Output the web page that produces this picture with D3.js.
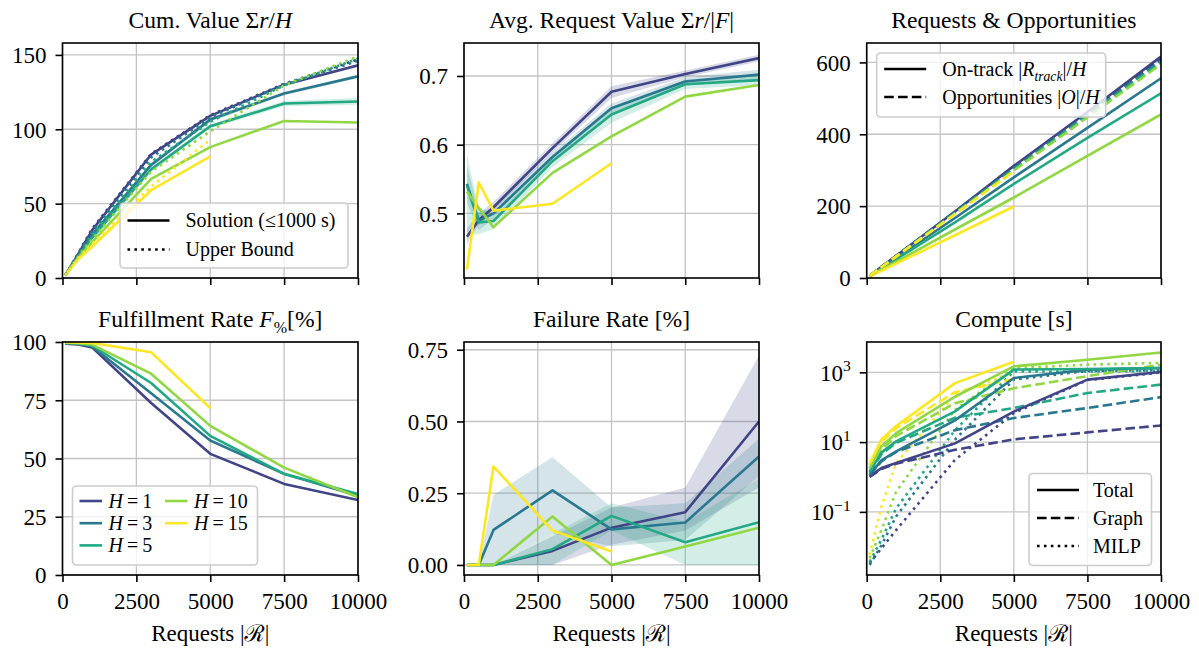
<!DOCTYPE html>
<html>
<head>
<meta charset="utf-8">
<script src="https://cdn.jsdelivr.net/npm/d3@7"></script>
<style>
  body { margin: 0; background: #fff; }
  svg, svg text { font-family: "Liberation Serif", "Tinos", "Times New Roman", "Times", "DejaVu Serif", "Noto Serif", serif; }
</style>
</head>
<body>
<svg id="fig" width="1199" height="651"></svg>
<script>
// ---------------- data ----------------
const requests = [100, 500, 1000, 3000, 5000, 7500, 10000];
const horizons = ["1", "3", "5", "10", "15"];
const xTicks = [0, 2500, 5000, 7500, 10000];

// Cumulative value per horizon step (solution and upper bound)
const cumSolution = [
  [2, 15, 32, 83, 109, 130, 143],
  [2, 14, 29, 76, 106.5, 124, 135.6],
  [2, 13.5, 27, 73, 102, 117.3, 118.7],
  [2, 13, 24, 66.7, 88, 105.6, 104.5],
  [2, 12, 21, 59, 81.8]
];
const cumSolutionLo = [null, [1.8, 13.5, 28, 74.5, 105, 122.8, 134.5], [1.8, 12.5, 26, 71.5, 100.5, 115.5, 116.5], null, null];
const cumSolutionHi = [null, [2.2, 14.5, 30, 77.5, 108, 125.2, 136.7], [2.2, 13.5, 28, 74.5, 103.5, 119, 121], null, null];
const cumUpper = [
  [2, 15.5, 33, 83.5, 109.5, 130.5, 147],
  [2, 15, 31, 81, 108, 130, 146],
  [2, 14, 29, 78, 105, 129.5, 147.5],
  [2, 13.5, 26, 71.6, 98.6, 129.5, 149],
  [2, 12.5, 23, 61.5, 93]
];

// Average request value
const avgValue = [
  [0.466, 0.490, 0.509, 0.595, 0.677, 0.703, 0.726],
  [0.543, 0.489, 0.500, 0.582, 0.653, 0.692, 0.702],
  [0.540, 0.487, 0.489, 0.576, 0.644, 0.688, 0.694],
  [0.532, 0.508, 0.480, 0.559, 0.612, 0.670, 0.687],
  [0.418, 0.545, 0.504, 0.514, 0.573]
];
const avgValueLo = [
  [0.455, 0.484, 0.503, 0.589, 0.668, 0.698, 0.721],
  [0.515, 0.476, 0.492, 0.575, 0.646, 0.686, 0.695],
  [0.467, 0.470, 0.477, 0.567, 0.632, 0.681, 0.687],
  null, null
];
const avgValueHi = [
  [0.478, 0.500, 0.517, 0.602, 0.685, 0.708, 0.731],
  [0.570, 0.502, 0.508, 0.589, 0.660, 0.698, 0.709],
  [0.585, 0.508, 0.500, 0.585, 0.655, 0.695, 0.701],
  null, null
];

// On-track requests and opportunities per horizon step
const onTrack = [
  [6, 31, 62, 185, 312, 462, 616],
  [5.6, 28, 56, 167, 280, 418, 556],
  [5.1, 26, 52, 155, 262, 390, 514],
  [4.5, 23, 45, 135, 224, 340, 455],
  [4, 20, 40, 119, 199]
];
const opportunities = [
  [6, 31, 61.5, 184, 308, 460, 612],
  [6, 30.5, 61, 183, 305, 455, 605],
  [6, 30, 60.5, 181, 302, 452, 600],
  [6, 30, 60, 179, 299, 447, 595],
  [6, 30, 59.5, 178, 297]
];

// Fulfillment rate [%]
const fulfillment = [
  [99.3, 99.0, 97.7, 73.8, 52.0, 39.1, 32.2],
  [99.5, 99.3, 98.1, 78.0, 57.7, 43.4, 34.0],
  [99.6, 99.4, 98.5, 82.4, 59.7, 43.4, 34.7],
  [99.7, 99.5, 98.9, 86.4, 64.0, 46.1, 33.4],
  [99.9, 99.8, 99.6, 95.6, 71.6]
];

// Failure rate [%]
const failure = [
  [0, 0, 0, 0.049, 0.130, 0.184, 0.500],
  [0, 0, 0.122, 0.260, 0.124, 0.148, 0.378],
  [0, 0, 0, 0.055, 0.171, 0.079, 0.149],
  [0, 0, 0, 0.169, 0.000, 0.064, 0.130],
  [0, 0, 0.343, 0.120, 0.047]
];
const failureLo = [
  [0, 0, 0, 0, 0.07, 0.12, 0.27],
  [0, 0, 0, 0.11, 0.065, 0.087, 0.31],
  [0, 0, 0, 0, 0.12, 0, 0],
  null, null
];
const failureHi = [
  [0, 0, 0, 0.10, 0.20, 0.27, 0.73],
  [0, 0, 0.245, 0.375, 0.20, 0.215, 0.44],
  [0, 0, 0, 0.11, 0.215, 0.15, 0.30],
  null, null
];

// Compute time [s]
const computeTotal = [
  [1.03, 1.8, 2.5, 9.2, 75, 620, 1020],
  [1.15, 3.0, 5.4, 42, 690, 1200, 1330],
  [1.4, 5.0, 10.5, 76, 1200, 1250, 1330],
  [1.8, 7.5, 18, 200, 1490, 2300, 3700],
  [2.4, 12, 29, 490, 2000]
];
const computeGraph = [
  [1.0, 1.7, 2.4, 6, 12, 19, 30],
  [1.1, 2.8, 5.2, 22, 49, 95, 195],
  [1.3, 4.5, 9.5, 50, 95, 256, 445],
  [1.6, 6, 15, 130, 350, 780, 1660],
  [2.2, 10, 25, 270, 650]
];
const computeMilp = [
  [0.0034, 0.009, 0.03, 3.1, 68, 600, 990],
  [0.003, 0.011, 0.074, 11.7, 620, 1100, 1150],
  [0.0037, 0.016, 0.126, 22, 1070, 1050, 1100],
  [0.0047, 0.03, 0.38, 85, 1320, 1660, 1870],
  [0.0059, 0.14, 2.5, 230, 1000]
];

// ---------------- styles ----------------
const palette = ["#414487", "#2a788e", "#22a884", "#90d743", "#fde725"];
const SERIF = "'Liberation Serif', 'Tinos', 'Times New Roman', Times, 'DejaVu Serif', 'Noto Serif', serif";
const FS = 23;      // tick label size
const TFS = 23.6;   // title size
const LFS = 20;     // legend size
const LW = 2.6;
const DASH = "9.6,4.2";
const DOT = "2.6,4.3";

const svg = d3.select("#fig").attr("font-family", SERIF);
const colL = [62.5, 464, 866.7], colR = [358, 759, 1161];
const rowT = [43, 342], rowB = [278, 575];

function rich(sel, segs, size) {
  let off = 0;
  for (const [txt, st] of segs) {
    const sp = sel.append("tspan").text(txt);
    let target = 0;
    if (st.includes("i")) sp.attr("font-style", "italic");
    if (st.includes("sub")) { sp.attr("font-size", size * 0.68); target = size * 0.25; }
    if (st.includes("sup")) { sp.attr("font-size", size * 0.68); target = -size * 0.42; }
    if (target !== off) { sp.attr("dy", target - off); off = target; }
  }
}

function makePanel(ci, ri, opt) {
  const L = colL[ci], R = colR[ci], T = rowT[ri], B = rowB[ri];
  const x = d3.scaleLinear().domain([0, 10000]).range([L, R]);
  const y = (opt.log ? d3.scaleLog() : d3.scaleLinear()).domain(opt.yDomain).range([B, T]);
  const root = svg.append("g");
  const id = `clip-${ci}-${ri}`;
  root.append("clipPath").attr("id", id).append("rect")
    .attr("x", L).attr("y", T).attr("width", R - L).attr("height", B - T);

  // grid
  const grid = root.append("g").attr("stroke", "#c4c4c4").attr("stroke-width", 1.3);
  grid.selectAll("line.gx").data(xTicks).join("line").attr("class", "gx")
    .attr("x1", d => x(d)).attr("x2", d => x(d)).attr("y1", T).attr("y2", B);
  grid.selectAll("line.gy").data(opt.yTicks).join("line").attr("class", "gy")
    .attr("y1", d => y(d)).attr("y2", d => y(d)).attr("x1", L).attr("x2", R);

  const plot = root.append("g").attr("clip-path", `url(#${id})`);
  const top = root.append("g");

  // axes
  const xAxis = d3.axisBottom(x).tickValues(xTicks).tickSize(7).tickPadding(9)
    .tickFormat(opt.xLabels ? d3.format("d") : () => "");
  const gx = top.append("g").attr("transform", `translate(0,${B})`).call(xAxis);
  const yAxis = d3.axisLeft(y).tickValues(opt.yTicks).tickSize(7).tickPadding(9)
    .tickFormat(opt.log ? () => "" : opt.yFormat);
  const gy = top.append("g").attr("transform", `translate(${L},0)`).call(yAxis);
  [gx, gy].forEach(a => {
    a.attr("font-family", SERIF).attr("font-size", FS);
    a.select(".domain").remove();
    a.selectAll(".tick line").attr("stroke", "#000").attr("stroke-width", 1.6);
    a.selectAll(".tick text").attr("fill", "#000");
  });
  gx.selectAll(".tick text").attr("dy", "0.78em");
  gy.selectAll(".tick text").attr("dy", "0.34em");
  if (opt.log) {
    gy.selectAll(".tick text").each(function (d) {
      const e = Math.round(Math.log10(d));
      rich(d3.select(this), [["10", ""], [String(e).replace("-", "\u2212"), "sup"]], FS);
    });
  }
  // spines
  top.append("rect").attr("x", L).attr("y", T).attr("width", R - L).attr("height", B - T)
    .attr("fill", "none").attr("stroke", "#000").attr("stroke-width", 1.6);

  // title
  const tt = top.append("text").attr("x", (L + R) / 2).attr("y", T - 15)
    .attr("text-anchor", "middle").attr("font-size", TFS).attr("fill", "#000");
  rich(tt, opt.title, TFS);

  if (opt.xLabels) {
    const xl = top.append("text").attr("x", (L + R) / 2).attr("y", B + 66)
      .attr("text-anchor", "middle").attr("font-size", FS).attr("fill", "#000");
    rich(xl, [["Requests |", ""], ["\u211B", ""], ["|", ""]], FS);
  }

  const lineGen = d3.line().x(d => x(d[0])).y(d => y(d[1]));
  const areaGen = d3.area().x(d => x(d[0])).y0(d => y(d[1])).y1(d => y(d[2]));

  return {
    L, R, T, B, x, y, top,
    band(lo, hi, k) {
      if (!lo) return;
      const pts = lo.map((v, i) => [requests[i], v, hi[i]]);
      plot.append("path").attr("d", areaGen(pts)).attr("fill", palette[k])
        .attr("fill-opacity", 0.2).attr("stroke", "none");
    },
    line(vals, k, dash) {
      plot.append("path").attr("d", lineGen(d3.zip(requests, vals)))
        .attr("fill", "none").attr("stroke", palette[k]).attr("stroke-width", LW)
        .attr("stroke-dasharray", dash || null).attr("stroke-linejoin", "round");
    }
  };
}

// legend box: one entry per item with its handle style and label
function legend(p, opt) {
  const g = p.top.append("g");
  const bx = opt.anchor.includes("right") ? p.R - opt.pad - opt.w : p.L + opt.pad;
  const by = opt.anchor.includes("bottom") ? p.B - opt.pad - opt.h : p.T + opt.pad;
  g.append("rect").attr("x", bx).attr("y", by).attr("width", opt.w).attr("height", opt.h)
    .attr("rx", 4).attr("fill", "#fff").attr("fill-opacity", 0.8)
    .attr("stroke", "#cccccc").attr("stroke-width", 1.6);
  opt.items.forEach(it => {
    const cx = bx + opt.colX[it.col];
    const cy = by + opt.rowY0 + it.row * opt.rowGap;
    g.append("line").attr("x1", cx).attr("x2", cx + opt.handle).attr("y1", cy).attr("y2", cy)
      .attr("stroke", it.color).attr("stroke-width", LW).attr("stroke-dasharray", it.dash || null);
    const t = g.append("text").attr("x", cx + opt.handle + opt.textGap).attr("y", cy).attr("dy", "0.34em")
      .attr("font-size", LFS).attr("fill", "#000");
    rich(t, it.label, LFS);
  });
}

// ---------------- panels ----------------
const hLabel = k => [["H", "i"], ["\u2009=\u2009" + horizons[k], ""]];

// Cumulative value
{
  const p = makePanel(0, 0, {
    yDomain: [0, 158], yTicks: [0, 50, 100, 150], yFormat: d3.format("d"),
    title: [["Cum. Value \u03A3", ""], ["r", "i"], ["/", ""], ["H", "i"]]
  });
  horizons.forEach((h, k) => p.band(cumSolutionLo[k], cumSolutionHi[k], k));
  horizons.forEach((h, k) => p.line(cumSolution[k], k));
  horizons.forEach((h, k) => p.line(cumUpper[k], k, DOT));
  legend(p, {
    anchor: "bottom right", pad: 10, w: 228, h: 65, rowY0: 17.5, rowGap: 29,
    colX: [7.5], handle: 42, textGap: 16,
    items: [
      { row: 0, col: 0, color: "#000", label: [["Solution (\u22641000 s)", ""]] },
      { row: 1, col: 0, color: "#000", dash: DOT, label: [["Upper Bound", ""]] }
    ]
  });
}

// Average request value
{
  const p = makePanel(1, 0, {
    yDomain: [0.406, 0.748], yTicks: [0.5, 0.6, 0.7], yFormat: d3.format(".1f"),
    title: [["Avg. Request Value \u03A3", ""], ["r", "i"], ["/|", ""], ["F", "i"], ["|", ""]]
  });
  horizons.forEach((h, k) => p.band(avgValueLo[k], avgValueHi[k], k));
  horizons.forEach((h, k) => p.line(avgValue[k], k));
}

// Requests & opportunities
{
  const p = makePanel(2, 0, {
    yDomain: [0, 654], yTicks: [0, 200, 400, 600], yFormat: d3.format("d"),
    title: [["Requests & Opportunities", ""]]
  });
  horizons.forEach((h, k) => p.line(onTrack[k], k));
  horizons.forEach((h, k) => p.line(opportunities[k], k, DASH));
  legend(p, {
    anchor: "top left", pad: 10, w: 229, h: 64, rowY0: 16, rowGap: 28,
    colX: [7.5], handle: 42, textGap: 16,
    items: [
      { row: 0, col: 0, color: "#000", label: [["On-track |", ""], ["R", "i"], ["track", "isub"], ["|/", ""], ["H", "i"]] },
      { row: 1, col: 0, color: "#000", dash: DASH, label: [["Opportunities |", ""], ["O", "i"], ["|/", ""], ["H", "i"]] }
    ]
  });
}

// Fulfillment rate
{
  const p = makePanel(0, 1, {
    yDomain: [0, 100], yTicks: [0, 25, 50, 75, 100], yFormat: d3.format("d"), xLabels: true,
    title: [["Fulfillment Rate ", ""], ["F", "i"], ["%", "sub"], ["[%]", ""]]
  });
  horizons.forEach((h, k) => p.line(fulfillment[k], k));
  legend(p, {
    anchor: "bottom left", pad: 10, w: 185, h: 79, rowY0: 15, rowGap: 22.2,
    colX: [7, 92.5], handle: 22.5, textGap: 6.5,
    items: horizons.map((h, k) => ({ row: k < 3 ? k : k - 3, col: k < 3 ? 0 : 1, color: palette[k], label: hLabel(k) }))
  });
}

// Failure rate
{
  const p = makePanel(1, 1, {
    yDomain: [-0.035, 0.777], yTicks: [0, 0.25, 0.5, 0.75], yFormat: d3.format(".2f"), xLabels: true,
    title: [["Failure Rate [%]", ""]]
  });
  horizons.forEach((h, k) => p.band(failureLo[k], failureHi[k], k));
  horizons.forEach((h, k) => p.line(failure[k], k));
}

// Compute time
{
  const p = makePanel(2, 1, {
    log: true, yDomain: [Math.pow(10, -2.81), Math.pow(10, 3.87)], yTicks: [0.1, 10, 1000], xLabels: true,
    title: [["Compute [s]", ""]]
  });
  horizons.forEach((h, k) => p.line(computeMilp[k], k, DOT));
  horizons.forEach((h, k) => p.line(computeGraph[k], k, DASH));
  horizons.forEach((h, k) => p.line(computeTotal[k], k));
  legend(p, {
    anchor: "bottom right", pad: 9.5, w: 122.5, h: 92, rowY0: 16.5, rowGap: 28,
    colX: [8], handle: 42, textGap: 14,
    items: [
      { row: 0, col: 0, color: "#000", label: [["Total", ""]] },
      { row: 1, col: 0, color: "#000", dash: DASH, label: [["Graph", ""]] },
      { row: 2, col: 0, color: "#000", dash: DOT, label: [["MILP", ""]] }
    ]
  });
}
</script>
</body>
</html>
